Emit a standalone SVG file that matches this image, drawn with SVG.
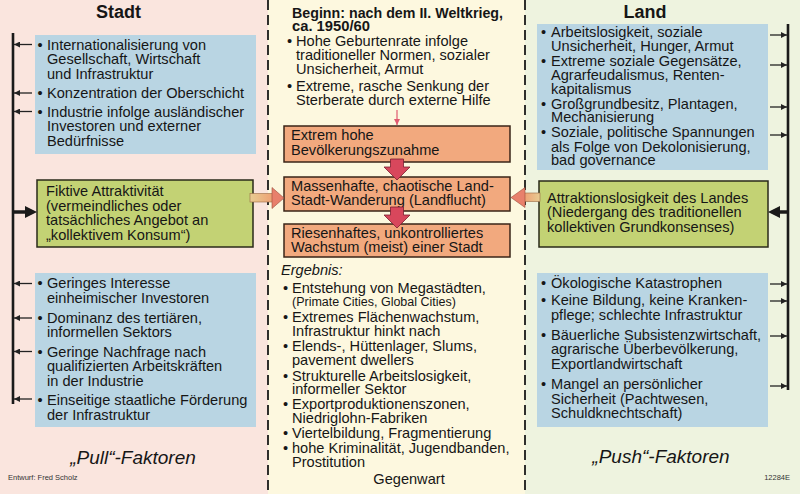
<svg xmlns="http://www.w3.org/2000/svg" width="800" height="494" viewBox="0 0 800 494">
  <style>
    .t { font-family: "Liberation Sans", Arial, sans-serif; font-size: 14.6px; fill: #161616; }
    .b { font-weight: bold; font-size: 14.4px; }
    .i { font-style: italic; }
    .h { font-family: "Liberation Sans", Arial, sans-serif; font-size: 18px; font-weight: bold; fill: #161616; text-anchor: middle; }
    .f { font-family: "Liberation Sans", Arial, sans-serif; font-size: 19px; font-style: italic; fill: #161616; text-anchor: middle; }
    .s { font-family: "Liberation Sans", Arial, sans-serif; font-size: 7.5px; fill: #333; }
    .blue { fill: #b9d5e3; }
    .green { fill: #c3d274; stroke: #2a2a1a; stroke-width: 1.5; }
    .orange { fill: #f2a97e; stroke: #3a2418; stroke-width: 1.5; }
    .thin { stroke: #222; stroke-width: 1.3; fill: none; marker-end: url(#ah); }
    .axis { stroke: #1a1a1a; stroke-width: 2.6; fill: none; }
    .dash { stroke: #1a1a1a; stroke-width: 1.8; stroke-dasharray: 10 5; fill: none; }
    .red { fill: #d8475c; stroke: #7a2030; stroke-width: 0.8; }
  </style>
  <defs>
    <marker id="ah" viewBox="0 0 10 10" refX="10" refY="5" markerUnits="userSpaceOnUse" markerWidth="7" markerHeight="6" orient="auto">
      <path d="M0,0 L10,5 L0,10 z" fill="#222"/>
    </marker>
    <marker id="ahr" viewBox="0 0 10 10" refX="10" refY="5" markerUnits="userSpaceOnUse" markerWidth="6" markerHeight="6" orient="auto">
      <path d="M0,0 L10,5 L0,10 z" fill="#e05a70"/>
    </marker>
    <linearGradient id="barL" x1="0" y1="0" x2="1" y2="0">
      <stop offset="0" stop-color="#e8cc92"/>
      <stop offset="1" stop-color="#eea074"/>
    </linearGradient>
    <linearGradient id="barR" x1="1" y1="0" x2="0" y2="0">
      <stop offset="0" stop-color="#e8cc92"/>
      <stop offset="1" stop-color="#eea074"/>
    </linearGradient>
  </defs>

  <!-- three background bands -->
  <rect x="0" y="0" width="268" height="494" fill="#fae5de"/>
  <rect x="268" y="0" width="257" height="494" fill="#fdf8df"/>
  <rect x="525" y="0" width="275" height="494" fill="#eef3df"/>
  <line class="dash" x1="268" y1="0" x2="268" y2="494"/>
  <line class="dash" x1="525" y1="0" x2="525" y2="494"/>

  <!-- headings and footers -->
  <text class="h" x="118.5" y="18">Stadt</text>
  <text class="h" x="645" y="18">Land</text>
  <text class="f" x="133" y="464">„Pull“-Faktoren</text>
  <text class="f" x="661" y="463">„Push“-Faktoren</text>
  <text class="s" x="8" y="480">Entwurf: Fred Scholz</text>
  <text class="s" x="790" y="480" text-anchor="end">12284E</text>

  <!-- city: upper factors -->
  <g id="stadt-oben">
    <rect class="blue" x="35" y="35" width="221" height="119"/>
    <text class="t" x="37.5" y="49.5">•</text>
    <text class="t" x="47" y="49.5">Internationalisierung von</text>
    <text class="t" x="47" y="64">Gesellschaft, Wirtschaft</text>
    <text class="t" x="47" y="78.5">und Infrastruktur</text>
    <text class="t" x="37.5" y="98">•</text>
    <text class="t" x="47" y="98">Konzentration der Oberschicht</text>
    <text class="t" x="37.5" y="116.5">•</text>
    <text class="t" x="47" y="116.5">Industrie infolge ausländischer</text>
    <text class="t" x="47" y="131">Investoren und externer</text>
    <text class="t" x="47" y="145.5">Bedürfnisse</text>
  </g>

  <!-- city: attraction -->
  <g id="stadt-attraktiv">
    <rect class="green" x="37" y="180" width="216" height="67"/>
    <text class="t" x="46" y="196">Fiktive Attraktivität</text>
    <text class="t" x="46" y="210.5">(vermeindliches oder</text>
    <text class="t" x="46" y="225">tatsächliches Angebot an</text>
    <text class="t" x="46" y="239.5">„kollektivem Konsum“)</text>
  </g>

  <!-- city: lower factors -->
  <g id="stadt-unten">
    <rect class="blue" x="35" y="273" width="221" height="154"/>
    <text class="t" x="37.5" y="288">•</text>
    <text class="t" x="47" y="288">Geringes Interesse</text>
    <text class="t" x="47" y="302.5">einheimischer Investoren</text>
    <text class="t" x="37.5" y="322.5">•</text>
    <text class="t" x="47" y="322.5">Dominanz des tertiären,</text>
    <text class="t" x="47" y="337">informellen Sektors</text>
    <text class="t" x="37.5" y="356.5">•</text>
    <text class="t" x="47" y="356.5">Geringe Nachfrage nach</text>
    <text class="t" x="47" y="371">qualifizierten Arbeitskräften</text>
    <text class="t" x="47" y="385.5">in der Industrie</text>
    <text class="t" x="37.5" y="405">•</text>
    <text class="t" x="47" y="405">Einseitige staatliche Förderung</text>
    <text class="t" x="47" y="419.5">der Infrastruktur</text>
  </g>

  <!-- centre: origin -->
  <g id="beginn">
    <text class="t b" x="292" y="18" textLength="211" lengthAdjust="spacingAndGlyphs">Beginn: nach dem II. Weltkrieg,</text>
    <text class="t b" x="292" y="31" textLength="78" lengthAdjust="spacingAndGlyphs">ca. 1950/60</text>
    <text class="t" x="287" y="46">•</text>
    <text class="t" x="296" y="46">Hohe Geburtenrate infolge</text>
    <text class="t" x="296" y="60">traditioneller Normen, sozialer</text>
    <text class="t" x="296" y="74">Unsicherheit, Armut</text>
    <text class="t" x="287" y="90.5">•</text>
    <text class="t" x="296" y="90.5">Extreme, rasche Senkung der</text>
    <text class="t" x="296" y="105">Sterberate durch externe Hilfe</text>
  </g>

  <g id="zunahme">
    <rect class="orange" x="284" y="126" width="226" height="36"/>
    <text class="t" x="291" y="140">Extrem hohe</text>
    <text class="t" x="291" y="155">Bevölkerungszunahme</text>
  </g>

  <g id="landflucht">
    <rect class="orange" x="284" y="177" width="226" height="34"/>
    <text class="t" x="291" y="190.5">Massenhafte, chaotische Land-</text>
    <text class="t" x="291" y="204.5">Stadt-Wanderung (Landflucht)</text>
  </g>

  <g id="wachstum">
    <rect class="orange" x="284" y="224" width="226" height="33"/>
    <text class="t" x="291" y="237.5">Riesenhaftes, unkontrolliertes</text>
    <text class="t" x="291" y="252">Wachstum (meist) einer Stadt</text>
  </g>

  <!-- centre: results -->
  <g id="ergebnis">
    <text class="t i" x="281" y="275">Ergebnis:</text>
    <text class="t" x="283" y="293">•</text>
    <text class="t" x="292" y="293">Entstehung von Megastädten,</text>
    <text class="t" x="292" y="305.5" style="font-size:12.5px">(Primate Cities, Global Cities)</text>
    <text class="t" x="283" y="322">•</text>
    <text class="t" x="292" y="322">Extremes Flächenwachstum,</text>
    <text class="t" x="292" y="336">Infrastruktur hinkt nach</text>
    <text class="t" x="283" y="351">•</text>
    <text class="t" x="292" y="351">Elends-, Hüttenlager, Slums,</text>
    <text class="t" x="292" y="365">pavement dwellers</text>
    <text class="t" x="283" y="380.5">•</text>
    <text class="t" x="292" y="380.5">Strukturelle Arbeitslosigkeit,</text>
    <text class="t" x="292" y="394">informeller Sektor</text>
    <text class="t" x="283" y="409">•</text>
    <text class="t" x="292" y="409">Exportproduktionenszonen,</text>
    <text class="t" x="292" y="423">Niedriglohn-Fabriken</text>
    <text class="t" x="283" y="438">•</text>
    <text class="t" x="292" y="438">Viertelbildung, Fragmentierung</text>
    <text class="t" x="283" y="453">•</text>
    <text class="t" x="292" y="453">hohe Kriminalität, Jugendbanden,</text>
    <text class="t" x="292" y="467">Prostitution</text>
    <text class="t" x="409" y="484" text-anchor="middle">Gegenwart</text>
  </g>

  <!-- country: upper factors -->
  <g id="land-oben">
    <rect class="blue" x="537" y="24" width="231" height="146"/>
    <text class="t" x="541" y="37">•</text>
    <text class="t" x="551" y="37">Arbeitslosigkeit, soziale</text>
    <text class="t" x="551" y="50.5">Unsicherheit, Hunger, Armut</text>
    <text class="t" x="541" y="66">•</text>
    <text class="t" x="551" y="66">Extreme soziale Gegensätze,</text>
    <text class="t" x="551" y="80">Agrarfeudalismus, Renten-</text>
    <text class="t" x="551" y="93.5">kapitalismus</text>
    <text class="t" x="541" y="109">•</text>
    <text class="t" x="551" y="109">Großgrundbesitz, Plantagen,</text>
    <text class="t" x="551" y="122">Mechanisierung</text>
    <text class="t" x="541" y="137">•</text>
    <text class="t" x="551" y="137">Soziale, politische Spannungen</text>
    <text class="t" x="551" y="151.5">als Folge von Dekolonisierung,</text>
    <text class="t" x="551" y="165">bad governance</text>
  </g>

  <!-- country: lack of attraction -->
  <g id="land-attraktionslos">
    <rect class="green" x="539" y="181" width="229" height="66"/>
    <text class="t" x="547" y="203">Attraktionslosigkeit des Landes</text>
    <text class="t" x="547" y="217">(Niedergang des traditionellen</text>
    <text class="t" x="547" y="231.5">kollektiven Grundkonsenses)</text>
  </g>

  <!-- country: lower factors -->
  <g id="land-unten">
    <rect class="blue" x="537" y="273" width="231" height="154"/>
    <text class="t" x="541" y="288">•</text>
    <text class="t" x="551" y="288">Ökologische Katastrophen</text>
    <text class="t" x="541" y="305">•</text>
    <text class="t" x="551" y="305">Keine Bildung, keine Kranken-</text>
    <text class="t" x="551" y="319.5">pflege; schlechte Infrastruktur</text>
    <text class="t" x="541" y="340">•</text>
    <text class="t" x="551" y="340">Bäuerliche Subsistenzwirtschaft,</text>
    <text class="t" x="551" y="354">agrarische Überbevölkerung,</text>
    <text class="t" x="551" y="368.5">Exportlandwirtschaft</text>
    <text class="t" x="541" y="389">•</text>
    <text class="t" x="551" y="389">Mangel an persönlicher</text>
    <text class="t" x="551" y="403.5">Sicherheit (Pachtwesen,</text>
    <text class="t" x="551" y="418">Schuldknechtschaft)</text>
  </g>

  <!-- connectors -->
  <g id="connectors">
    <!-- collecting lines -->
    <line class="axis" x1="13" y1="33" x2="13" y2="404"/>
    <line class="axis" x1="788" y1="24" x2="788" y2="390"/>

    <!-- city factors to the collecting line -->
    <line class="thin" x1="32" y1="44.5" x2="14" y2="44.5"/>
    <line class="thin" x1="32" y1="93" x2="14" y2="93"/>
    <line class="thin" x1="32" y1="111.5" x2="14" y2="111.5"/>
    <line class="thin" x1="32" y1="283.5" x2="14" y2="283.5"/>
    <line class="thin" x1="32" y1="318" x2="14" y2="318"/>
    <line class="thin" x1="32" y1="351.5" x2="14" y2="351.5"/>
    <line class="thin" x1="32" y1="399" x2="14" y2="399"/>

    <!-- country factors to the collecting line -->
    <line class="thin" x1="770" y1="35" x2="787" y2="35"/>
    <line class="thin" x1="770" y1="65" x2="787" y2="65"/>
    <line class="thin" x1="770" y1="107" x2="787" y2="107"/>
    <line class="thin" x1="770" y1="135" x2="787" y2="135"/>
    <line class="thin" x1="770" y1="284" x2="787" y2="284"/>
    <line class="thin" x1="770" y1="301" x2="787" y2="301"/>
    <line class="thin" x1="770" y1="336" x2="787" y2="336"/>
    <line class="thin" x1="770" y1="386" x2="787" y2="386"/>

    <!-- collecting lines into the green boxes -->
    <line x1="13" y1="212" x2="26" y2="212" stroke="#1a1a1a" stroke-width="3.5"/>
    <polygon points="25,206 37,212 25,218" fill="#1a1a1a"/>
    <line x1="788" y1="212" x2="779" y2="212" stroke="#1a1a1a" stroke-width="3.5"/>
    <polygon points="780,206 768,212 780,218" fill="#1a1a1a"/>

    <!-- green boxes into migration -->
    <rect x="250" y="193.5" width="23" height="8.5" fill="url(#barL)" stroke="#9a6a44" stroke-width="0.6"/>
    <polygon points="272,187.5 284,198 272,208.5" fill="#e8806c" stroke="#9a4a3a" stroke-width="0.6"/>
    <rect x="524" y="193" width="16" height="8.5" fill="url(#barR)" stroke="#9a6a44" stroke-width="0.6"/>
    <polygon points="525,187.5 511,197.5 525,207.5" fill="#e8806c" stroke="#9a4a3a" stroke-width="0.6"/>

    <!-- causal chain -->
    <line x1="397" y1="110" x2="397" y2="125" stroke="#e05a70" stroke-width="1.2" marker-end="url(#ahr)"/>
    <polygon class="red" points="390.5,159 403.5,159 403.5,167 410,167 397,180 384,167 390.5,167"/>
    <polygon class="red" points="390.5,207 403.5,207 403.5,215 410,215 397,228 384,215 390.5,215"/>
  </g>
</svg>
